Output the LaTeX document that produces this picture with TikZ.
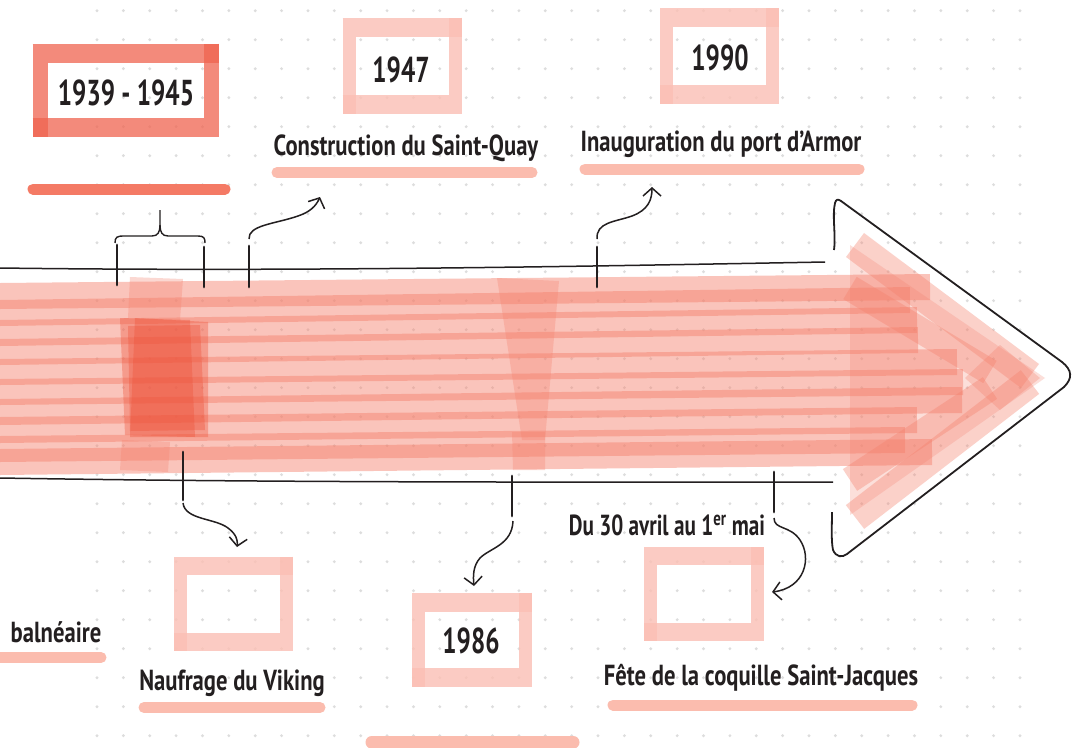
\documentclass[tikz,border=0pt]{standalone}
\usepackage{fontspec}
\setmainfont{PT Sans}[FakeStretch=0.7]
\newfontfamily\labelfont{PT Sans}[FakeStretch=0.78]
\newfontfamily\datefont{PT Sans}[FakeStretch=0.73]
\usetikzlibrary{arrows.meta}
\definecolor{ink}{RGB}{35,31,32}
\definecolor{dotc}{RGB}{221,221,221}
\definecolor{bandc}{RGB}{245,128,108}
\definecolor{strongc}{RGB}{240,100,80}
\definecolor{lightc}{RGB}{251,191,180}
\definecolor{barstrong}{RGB}{244,122,101}
\definecolor{barlight}{RGB}{251,188,174}
\definecolor{darkc}{RGB}{238,80,55}
\tikzset{
  band/.style={draw=bandc, draw opacity=0.46, line width=26},
  headstroke/.style={draw=bandc, draw opacity=0.36},
  patch/.style={fill=bandc, fill opacity=0.3},
  headfill/.style={fill=bandc, fill opacity=0.25},
  darkpatch/.style={fill=darkc, fill opacity=0.35},
  strongframe/.style={draw=strongc, draw opacity=0.75},
  lightframe/.style={draw=lightc, draw opacity=0.8},
  bar/.style={line width=11, line cap=round},
  tick/.style={draw=ink, line width=2.8, line cap=round},
  axis/.style={draw=ink, line width=1.5},
  conn/.style={draw=ink, line width=1.5, -{Straight Barb[length=8pt,width=18pt,line width=1.5pt]}},
  yeartext/.style={text=ink, font=\fontsize{36}{40}\selectfont\bfseries, inner sep=0, anchor=base},
  labeltext/.style={text=ink, font=\labelfont\fontsize{29}{32}\selectfont\bfseries, inner sep=0, anchor=base},
  datetext/.style={text=ink, font=\datefont\fontsize{29}{32}\selectfont\bfseries, inner sep=0, anchor=base},
}
\newcommand\hlframe[7]{%
  \draw[#1, line width=#7] ({#2-#6/2},#3) -- ({#4+#6/2},#3);
  \draw[#1, line width=#6] (#4,{#3-#7/2}) -- (#4,{#5+#7/2});
  \draw[#1, line width=#7] ({#2-#6/2},#5) -- ({#4-#6/2},#5);
  \draw[#1, line width=#6] (#2,{#3+#7/2}) -- (#2,{#5+#7/2});
}
\begin{document}
\begin{tikzpicture}[x=1pt,y=-1pt]
\useasboundingbox (0,0) rectangle (1075,747);
\fill[white] (0,0) rectangle (1075,747);
% dot grid
\foreach \i in {0,...,35}{
  \foreach \j in {0,...,25}{
    \fill[dotc] ({97+\i*26.37},{10.7+\j*29.0}) circle (1.6);
  }
}
% band strokes
\draw[band] (0,296) -- (930,287);
\draw[band] (0,313) -- (910,300);
\draw[band] (0,333) -- (917,320);
\draw[band] (0,352) -- (918,340);
\draw[band] (0,372) -- (957,362);
\draw[band] (0,392) -- (963,382);
\draw[band] (0,412) -- (962,400);
\draw[band] (0,430) -- (917,420);
\draw[band] (0,449) -- (905,440);
\draw[band] (0,462) -- (932,452);
% arrow head strokes
\fill[headfill] (850,245) -- (1045,378) -- (850,515) -- cycle;
\draw[headstroke, line width=30] (855,245) -- (1030,376);
\draw[headstroke, line width=30] (855,517) -- (1030,382);
\draw[headstroke, line width=26] (850,288) -- (990,372);
\draw[headstroke, line width=26] (850,480) -- (990,388);
\fill[patch] (1000,345) -- (1040,378) -- (1000,410) -- (965,378) -- cycle;
% vertical highlights
\fill[patch] (130,277) -- (183,279) -- (180,320) -- (128,318) -- cycle;
\fill[patch] (122,440) -- (170,442) -- (168,472) -- (120,470) -- cycle;
\fill[darkpatch] (120,318) -- (190,320) -- (195,437) -- (125,435) -- cycle;
\fill[darkpatch] (135,318) -- (208,322) -- (208,437) -- (130,437) -- cycle;
\fill[darkpatch] (128,326) -- (200,325) -- (205,430) -- (130,431) -- cycle;
\fill[patch] (497,278) -- (559,281) -- (545,440) -- (522,440) -- cycle;
\fill[patch] (512,432) -- (545,432) -- (545,470) -- (513,470) -- cycle;
% axis lines
\draw[axis] (0,268) .. controls (300,272) and (600,266) .. (825,262);
\draw[axis] (0,478) .. controls (300,483) and (600,482) .. (833,482);
% arrow outline
\draw[draw=ink, line width=1.8, line join=round]
  (834,250) .. controls (836,235) and (832,215) .. (835,203)
  .. controls (836,199) and (838,199) .. (841,201)
  -- (1062,362) .. controls (1072,370) and (1073,378) .. (1064,387)
  -- (847,554) .. controls (842,558) and (836,557) .. (833,550)
  .. controls (831,540) and (832,525) .. (832,512);
% ticks
\coordinate (t1a) at (117,245); \coordinate (t1b) at (117,285);
\coordinate (t2a) at (204,247); \coordinate (t2b) at (204,287);
\coordinate (t3a) at (249,246); \coordinate (t3b) at (249,287);
\coordinate (t4a) at (597,247); \coordinate (t4b) at (597,287);
\coordinate (b1a) at (183,452); \coordinate (b1b) at (183,500);
\coordinate (b2a) at (512,476); \coordinate (b2b) at (512,516);
\coordinate (b3a) at (774,472); \coordinate (b3b) at (774,512);
\draw[tick] (t1a) -- (t1b);
\draw[tick] (t2a) -- (t2b);
\draw[tick] (t3a) -- (t3b);
\draw[tick] (t4a) -- (t4b);
\draw[tick] (b1a) -- (b1b);
\draw[tick] (b2a) -- (b2b);
\draw[tick] (b3a) -- (b3b);
% brace
\draw[draw=ink, line width=1.4]
  (115,243) .. controls (115,237) and (117,236) .. (124,236) -- (152,236)
  .. controls (158,236) and (160,232) .. (160,225) -- (160,210);
\draw[draw=ink, line width=1.4]
  (160,225) .. controls (160,232) and (162,236) .. (168,236) -- (198,236)
  .. controls (204,236) and (205,238) .. (205,243);
% connectors
\coordinate (c1s) at (249,239); \coordinate (c1e) at (320,197);
\coordinate (c2s) at (597,239); \coordinate (c2e) at (652,187);
\coordinate (c3s) at (183,503); \coordinate (c3e) at (237,547);
\coordinate (c4s) at (513,521); \coordinate (c4e) at (474,586);
\coordinate (c5s) at (774,518); \coordinate (c5e) at (772,592);
\draw[conn] (c1s) .. controls (248,225) and (275,224) .. (298,216) .. controls (310,212) and (316,206) .. (c1e);
\draw[conn] (c2s) .. controls (596,222) and (615,222) .. (632,216) .. controls (648,210) and (652,200) .. (c2e);
\draw[conn] (c3s) .. controls (185,520) and (215,518) .. (228,528) .. controls (236,534) and (238,540) .. (c3e);
\draw[conn] (c4s) .. controls (512,545) and (490,548) .. (480,558) .. controls (473,566) and (473,576) .. (c4e);
\draw[conn] (c5s) .. controls (774,530) and (790,525) .. (800,540) .. controls (812,558) and (805,588) .. (c5e);
% frames
\hlframe{strongframe}{40}{53}{211.5}{127}{15}{19}
\hlframe{lightframe}{349}{27}{455}{104}{13}{19}
\hlframe{lightframe}{666.5}{17.5}{772.5}{94}{13}{19}
\hlframe{lightframe}{180.5}{565.5}{286.5}{641.5}{13}{18}
\hlframe{lightframe}{418.5}{602}{525}{677.5}{13}{19}
\hlframe{lightframe}{650.5}{556}{757.5}{631.5}{13}{18}
% bars
\draw[bar, draw=barstrong] (33,189) -- (225,189);
\draw[bar, draw=barlight] (277,172.5) -- (532,172.5);
\draw[bar, draw=barlight] (585,169) -- (859,169);
\draw[bar, draw=barlight] (-5,657.5) -- (101,657.5);
\draw[bar, draw=barlight] (144,707.5) -- (320,707.5);
\draw[bar, draw=barlight] (613,705) -- (912,705);
\draw[bar, draw=barlight, line width=13] (372,742) -- (573,742);
% texts
\node[yeartext] (y1939) at (126,105) {1939 - 1945};
\node[yeartext] (y1947) at (401,82) {1947};
\node[yeartext] (y1990) at (720,70) {1990};
\node[yeartext] (y1986) at (471,653) {1986};
\node[labeltext] (lcons) at (406,155) {Construction du Saint-Quay};
\node[labeltext] (linau) at (721,151) {Inauguration du port d’Armor};
\node[labeltext] (lbaln) at (56,642) {balnéaire};
\node[labeltext] (lnauf) at (232,690) {Naufrage du Viking};
\node[datetext] (ldate) at (667,535) {Du 30 avril au 1\textsuperscript{er} mai};
\node[labeltext] (lfete) at (761,685) {Fête de la coquille Saint-Jacques};
\end{tikzpicture}
\end{document}
